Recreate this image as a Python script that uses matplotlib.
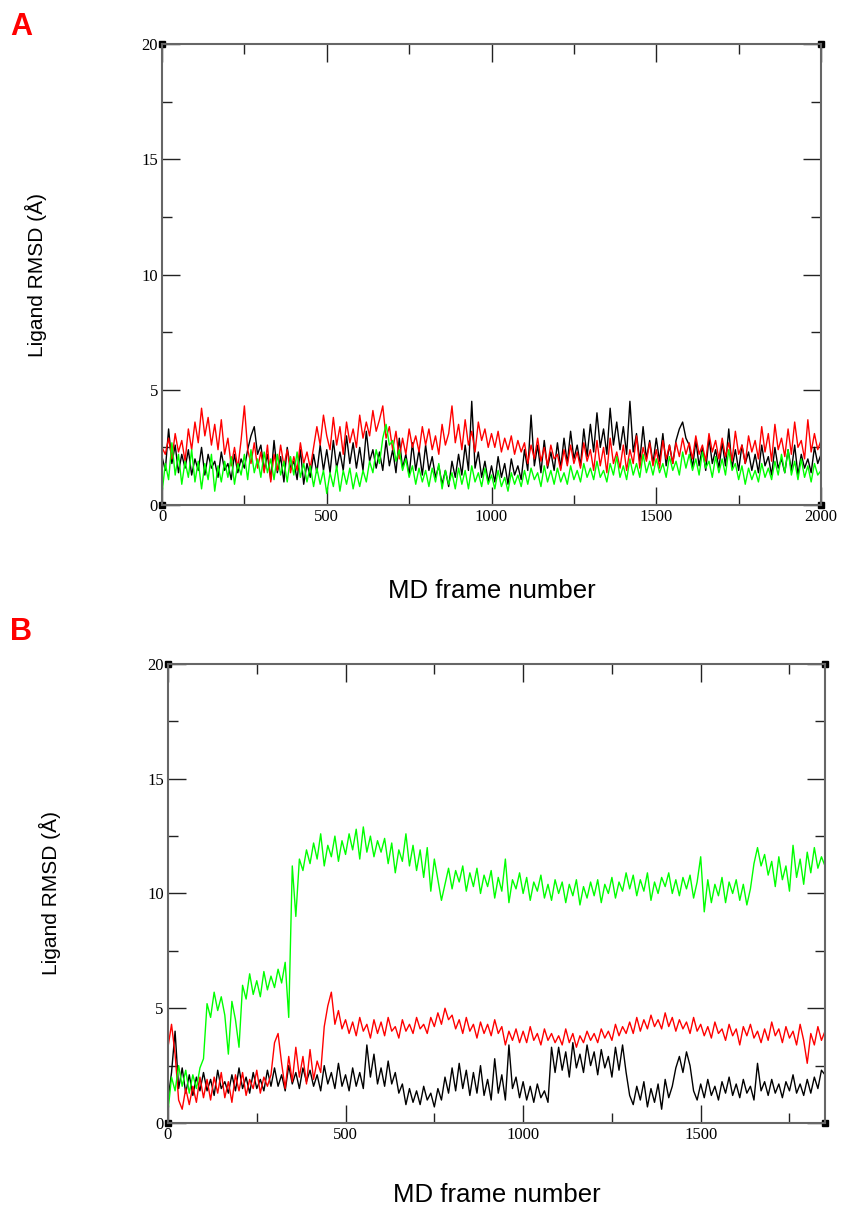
#Ligand RMSD over MD frames, two systems (A and B)
#traces, one value every 10 frames

import numpy as np
import matplotlib.pyplot as plt

# ---- panel A data (frames 0..2000, step 10) ----
framesA = np.arange(0, 2001, 10)

blackA = [2.1, 1.5, 3.3, 1.8, 2.6, 1.4, 2.2, 1.6, 2.4, 1.3,
          2.0, 1.5, 2.5, 1.3, 2.2, 1.6, 1.9, 1.2, 2.3, 1.5,
          1.8, 1.1, 2.2, 1.4, 2.0, 1.6, 2.4, 3.0, 3.4, 2.2,
          2.6, 1.5, 2.2, 1.1, 2.8, 1.4, 2.1, 1.0, 2.5, 1.6,
          1.9, 1.1, 2.4, 0.9, 1.8, 1.2, 2.2, 1.4, 2.6, 1.5,
          2.4, 1.4, 2.8, 1.6, 2.3, 1.5, 3.0, 1.8, 2.7, 1.6,
          2.5, 1.5, 3.2, 1.9, 2.4, 1.6, 2.3, 1.5, 2.8, 1.7,
          2.4, 1.4, 2.9, 1.6, 2.2, 1.3, 2.7, 1.5, 2.4, 1.3,
          2.6, 1.5, 2.1, 1.2, 1.7, 0.9, 1.5, 0.8, 1.9, 1.2,
          2.2, 1.3, 2.6, 1.5, 4.5, 1.6, 2.3, 1.2, 1.9, 1.0,
          1.7, 1.0, 2.1, 1.2, 1.8, 0.9, 2.0, 1.3, 1.7, 1.1,
          2.4, 1.5, 3.9, 1.7, 2.6, 1.4, 2.8, 1.6, 2.3, 1.5,
          2.7, 1.6, 2.9, 1.8, 3.2, 2.0, 2.6, 1.7, 3.3, 2.1,
          3.5, 2.3, 4.0, 2.5, 3.3, 2.2, 4.2, 2.6, 3.6, 2.4,
          3.4, 2.2, 4.5, 2.3, 3.1, 1.9, 3.4, 2.0, 2.8, 1.8,
          2.9, 1.9, 3.1, 1.7, 2.6, 1.8, 2.8, 3.3, 3.6, 2.9,
          2.6, 1.6, 2.8, 1.7, 2.5, 1.5, 2.9, 1.8, 2.4, 1.6,
          2.7, 1.7, 3.3, 1.6, 2.4, 1.5, 2.6, 1.8, 2.3, 1.5,
          2.2, 1.4, 2.6, 1.7, 2.1, 1.3, 2.5, 1.6, 2.0, 1.4,
          2.4, 1.5, 2.6, 1.3, 2.2, 1.6, 2.0, 1.4, 2.5, 1.8,
          2.2]

redA = [2.5, 2.2, 2.9, 2.0, 3.1, 2.3, 2.8, 1.9, 3.3, 2.4,
        3.6, 2.7, 4.2, 3.0, 3.8, 2.6, 3.5, 2.4, 3.7, 2.2,
        2.9, 1.7, 2.5, 1.6, 2.8, 4.3, 2.4, 1.8, 2.7, 1.6,
        2.3, 1.4, 2.6, 1.0, 2.2, 1.5, 2.6, 1.7, 2.4, 1.4,
        2.1, 1.5, 2.7, 1.8, 2.3, 1.6, 2.5, 3.4, 2.6, 3.9,
        3.0, 2.4, 3.8, 2.6, 3.4, 2.2, 3.6, 2.7, 3.3, 2.5,
        3.9, 2.9, 3.6, 3.0, 4.1, 3.2, 3.7, 4.3, 2.9, 3.4,
        2.4, 3.2, 2.0, 2.9, 2.2, 3.3, 2.5, 3.0, 2.3, 3.4,
        2.6, 3.3, 2.4, 3.0, 2.2, 3.5, 2.6, 3.1, 4.3, 2.7,
        3.5, 2.4, 3.7, 2.6, 3.2, 2.3, 3.6, 2.8, 3.3, 2.5,
        3.1, 2.5, 3.2, 2.3, 2.9, 2.4, 3.0, 2.2, 2.8, 2.3,
        2.7, 1.8, 2.6, 2.0, 2.9, 1.9, 2.5, 1.7, 2.6, 2.0,
        2.2, 1.5, 2.4, 1.7, 2.6, 1.8, 2.3, 1.6, 2.7, 1.9,
        2.4, 1.5, 2.8, 1.7, 2.5, 1.4, 2.9, 1.8, 2.3, 1.6,
        2.6, 1.5, 2.4, 1.8, 3.0, 1.6, 2.5, 1.9, 2.7, 1.7,
        2.4, 1.6, 2.8, 2.0, 2.6, 1.8, 2.7, 2.1, 2.9, 2.2,
        2.7, 2.0, 3.0, 2.2, 2.6, 1.9, 3.1, 2.3, 2.8, 2.0,
        2.9, 2.1, 2.7, 1.9, 3.2, 2.2, 2.6, 1.8, 3.0, 2.3,
        2.8, 2.0, 3.4, 2.3, 3.1, 1.9, 3.5, 2.4, 2.9, 2.1,
        3.3, 2.2, 3.6, 2.5, 2.8, 2.0, 3.7, 2.3, 3.1, 2.4,
        2.8]

greenA = [0.5, 1.8, 1.1, 2.7, 1.3, 2.2, 0.9, 1.9, 1.2, 2.4,
          1.0, 1.9, 0.7, 1.8, 1.1, 2.2, 0.6, 1.7, 1.0, 1.9,
          1.2, 2.1, 0.9, 1.8, 1.3, 2.2, 1.1, 2.4, 1.4, 2.0,
          1.2, 2.3, 1.4, 2.0, 1.1, 2.2, 1.3, 1.9, 1.0, 2.1,
          1.3, 2.3, 1.2, 1.8, 1.0, 1.7, 0.8, 1.6, 0.9, 1.5,
          0.5, 1.4, 0.8, 1.7, 0.6, 1.5, 0.9, 1.6, 0.7, 1.4,
          0.8, 1.5, 1.0, 1.9, 1.4, 2.4, 1.8, 2.9, 3.5, 2.6,
          2.8, 1.9, 2.4, 1.5, 2.0, 1.2, 1.7, 0.9, 1.6, 1.0,
          1.5, 0.8, 1.6, 1.0, 1.8, 0.7, 1.5, 0.9, 1.4, 0.7,
          1.6, 0.9, 1.5, 0.7, 1.7, 1.0, 1.4, 0.8, 1.6, 0.9,
          1.3, 0.7, 1.5, 0.8, 1.2, 0.6, 1.4, 0.9, 1.3, 0.8,
          1.5, 0.9, 1.6, 1.1, 1.4, 0.8, 1.7, 1.0, 1.5, 0.9,
          1.6, 1.0, 1.4, 0.9, 1.7, 1.1, 1.5, 1.0, 1.8, 1.2,
          1.6, 1.1, 1.9, 1.2, 1.5, 1.0, 1.8, 1.3, 2.1, 1.2,
          1.7, 1.1, 2.0, 1.3, 1.8, 1.2, 2.2, 1.4, 1.9, 1.3,
          2.0, 1.4, 1.8, 1.2, 2.1, 1.5, 1.9, 1.3, 2.3, 1.6,
          2.2, 1.5, 2.0, 1.3, 2.3, 1.6, 1.9, 1.2, 2.1, 1.4,
          2.0, 1.3, 2.4, 1.5, 1.8, 1.1, 1.7, 0.9, 1.6, 1.1,
          1.5, 1.0, 1.8, 1.2, 1.6, 1.1, 1.9, 1.3, 2.2, 1.4,
          2.4, 1.3, 1.9, 1.1, 2.0, 1.2, 1.7, 1.0, 1.8, 1.3,
          1.5]

# ---- panel B data (frames 0..1850, step 10) ----
framesB = np.arange(0, 1851, 10)

blackB = [1.0, 2.2, 4.0, 1.5, 2.4, 1.3, 2.1, 1.2, 2.0, 1.4,
          2.2, 1.4, 1.9, 1.2, 2.3, 1.5, 1.8, 1.3, 2.1, 1.4,
          2.4, 1.5, 2.0, 1.3, 2.2, 1.5, 1.9, 1.4, 2.3, 1.6,
          2.4, 1.6, 2.1, 1.4, 2.5, 1.7, 2.2, 1.5, 2.4, 1.8,
          2.3, 1.6, 2.1, 1.4, 2.5, 1.7, 2.2, 1.5, 2.6, 1.6,
          2.1, 1.4, 2.4, 1.6, 2.2, 1.5, 3.4, 2.0, 3.0, 1.7,
          2.4, 1.6, 2.7, 1.7, 2.2, 1.3, 1.7, 0.8, 1.5, 0.9,
          1.4, 0.8, 1.6, 1.0, 1.3, 0.7, 1.5, 1.0, 2.0, 1.3,
          2.4, 1.4, 2.6, 1.5, 2.3, 1.2, 2.2, 1.3, 2.5, 1.2,
          1.9, 1.0, 2.8, 1.3, 2.1, 1.0, 3.4, 1.5, 2.0, 1.1,
          1.8, 1.0, 1.6, 0.9, 1.7, 1.1, 1.4, 0.9, 3.3, 2.2,
          3.3, 2.3, 3.1, 2.0, 3.5, 2.4, 3.0, 2.2, 3.4, 2.5,
          3.1, 2.1, 3.2, 2.4, 2.9, 2.0, 3.3, 2.3, 3.4, 2.2,
          1.2, 0.8, 1.6, 1.0, 1.8, 0.7, 1.5, 0.9, 1.7, 0.6,
          1.9, 1.1, 1.6, 2.4, 2.9, 2.2, 3.1, 2.5, 1.4, 1.0,
          1.7, 1.1, 1.9, 1.2, 1.6, 1.0, 1.8, 1.3, 2.0, 1.2,
          1.7, 1.1, 1.9, 1.3, 1.6, 1.0, 2.6, 1.4, 1.8, 1.2,
          1.9, 1.3, 1.7, 1.1, 1.8, 1.4, 2.1, 1.3, 1.7, 1.2,
          1.9, 1.3, 2.0, 1.5, 2.3, 2.1]

redB = [3.3, 4.3, 3.0, 1.0, 0.6, 1.5, 0.8, 1.6, 0.9, 2.0,
        1.1, 1.9, 1.0, 2.0, 1.3, 2.2, 1.1, 1.8, 0.9, 2.1,
        1.4, 2.2, 1.2, 1.9, 1.5, 2.3, 1.3, 2.0, 1.6, 2.1,
        3.5, 3.9, 2.6, 1.5, 2.9, 1.8, 3.3, 2.0, 2.9, 1.7,
        3.2, 1.9, 2.7, 2.2, 4.2, 5.1, 5.7, 4.3, 4.9, 4.1,
        4.5, 3.9, 4.4, 3.8, 4.6, 4.0, 4.3, 3.7, 4.5, 3.9,
        4.4, 3.8, 4.6, 4.0, 4.2, 3.7, 4.5, 4.0, 4.3, 3.9,
        4.6, 4.1, 4.3, 3.9, 4.6, 4.2, 4.8, 4.3, 5.0, 4.5,
        4.7, 4.1, 4.5, 3.9, 4.6, 4.0, 4.3, 3.7, 4.4, 3.9,
        4.3, 3.8, 4.5, 3.9, 4.2, 3.4, 4.0, 3.6, 4.1, 3.5,
        4.0, 3.5, 4.2, 3.6, 3.9, 3.4, 4.1, 3.6, 3.9, 3.5,
        3.8, 3.4, 4.1, 3.5, 3.9, 3.3, 3.8, 3.5, 4.0, 3.6,
        3.9, 3.5, 4.1, 3.7, 4.0, 3.6, 4.3, 3.8, 4.2, 3.9,
        4.4, 3.9, 4.6, 4.0, 4.5, 4.1, 4.7, 4.2, 4.5, 4.1,
        4.8, 4.2, 4.6, 4.0, 4.5, 4.1, 4.4, 3.9, 4.6, 4.0,
        4.3, 3.8, 4.2, 3.7, 4.4, 3.9, 4.1, 3.6, 4.3, 3.8,
        4.1, 3.4, 4.2, 3.8, 4.3, 3.7, 4.0, 3.5, 4.1, 3.6,
        4.4, 3.8, 4.1, 3.5, 4.2, 3.7, 4.0, 3.4, 4.3, 3.6,
        2.6, 3.9, 3.4, 4.2, 3.6, 4.0]

greenB = [0.5, 2.0, 1.4, 2.5, 1.6, 2.3, 1.3, 2.1, 1.5, 2.4,
          2.8, 5.2, 4.6, 5.7, 4.9, 5.5, 4.7, 3.0, 5.3, 4.5,
          3.3, 6.0, 5.4, 6.5, 5.6, 6.2, 5.5, 6.6, 5.8, 6.4,
          5.9, 6.7, 6.1, 7.0, 4.6, 11.2, 9.0, 11.5, 11.0, 11.9,
          11.3, 12.2, 11.5, 12.6, 11.2, 12.1, 11.6, 12.5, 11.4, 12.3,
          11.7, 12.6, 11.9, 12.8, 11.5, 12.9, 11.8, 12.5, 11.6, 12.3,
          11.8, 12.4, 11.3, 12.2, 10.9, 11.9, 11.4, 12.6, 11.2, 12.1,
          11.0, 11.9, 10.7, 12.0, 10.1, 11.5, 10.6, 9.7, 10.4, 11.1,
          10.2, 11.0, 10.5, 11.2, 10.1, 10.9, 10.3, 11.1, 10.0, 10.8,
          10.3, 11.0, 9.8, 10.7, 10.1, 11.5, 9.6, 10.6, 10.2, 10.9,
          10.0, 10.7, 9.7, 10.5, 10.1, 10.8, 9.8, 10.4, 9.7, 10.6,
          10.0, 10.5, 9.6, 10.4, 9.9, 10.6, 9.5, 10.3, 9.8, 10.5,
          9.9, 10.6, 9.6, 10.4, 10.0, 10.7, 9.8, 10.5, 10.1, 10.9,
          10.2, 10.8, 9.9, 10.6, 10.1, 10.9, 9.7, 10.5, 10.0, 10.7,
          10.3, 10.9, 10.0, 10.6, 9.9, 10.7, 10.2, 10.8, 9.8, 10.5,
          11.6, 9.2, 10.6, 9.6, 10.4, 9.9, 10.7, 9.6, 10.5, 10.0,
          10.6, 9.7, 10.4, 9.5, 10.2, 11.3, 12.0, 11.2, 11.7, 10.8,
          11.4, 10.3, 11.6, 10.6, 11.2, 10.1, 12.1, 10.7, 11.5, 10.4,
          11.8, 10.9, 12.0, 11.1, 11.6, 11.2]

yticks = [0, 5, 10, 15, 20]
xticksA = [0, 500, 1000, 1500, 2000]
xticksB = [0, 500, 1000, 1500]

fig = plt.figure(figsize=(8.42, 12.07), dpi=100)
axA = fig.add_axes([0.1924, 0.5816, 0.7827, 0.3819])
axB = fig.add_axes([0.1995, 0.0696, 0.7803, 0.3803])

# (axes, frames, series, x max, x ticks, ylabel pad, xlabel pad)
panels = [(axA, framesA, [blackA, redA, greenA], 2000, xticksA, 68, 39),
          (axB, framesB, [blackB, redB, greenB], 1850, xticksB, 62, 29)]

for ax, fr, series, xmax, xt, ypad, xpad in panels:
    for ys, col in zip(series, ['#000000', '#ff0000', '#00ff00']):
        ax.plot(fr, ys, color=col, lw=1.0)
    ax.set_xlim(0, xmax)
    ax.set_ylim(0, 20)
    ax.set_xticks(xt)
    ax.set_xticks(np.arange(250, xmax, 500), minor=True)
    ax.set_yticks(yticks)
    ax.set_yticks([2.5, 7.5, 12.5, 17.5], minor=True)
    ax.tick_params(which='both', direction='in', top=True, right=True,
                   labelfontfamily='Liberation Serif', labelsize=12, pad=3, color='#222222')
    ax.tick_params(which='major', length=13, width=1)
    ax.tick_params(which='minor', length=7, width=1)
    for s in ax.spines.values():
        s.set_color('#666666')
        s.set_linewidth(1.5)
    # little squares at the frame corners, like xmgrace
    ax.plot([0, 1, 0, 1], [0, 0, 1, 1], 's', color='k', ms=5,
            transform=ax.transAxes, clip_on=False)
    ax.set_ylabel('Ligand RMSD (Å)', family='Liberation Sans', fontsize=15, labelpad=ypad)
    ax.set_xlabel('MD frame number', family='Liberation Sans', fontsize=18.5, labelpad=xpad)

fig.text(0.012, 0.978, 'A', color='#ff0000', fontsize=22, fontweight='bold',
         family='Liberation Sans', va='center')
fig.text(0.012, 0.476, 'B', color='#ff0000', fontsize=22, fontweight='bold',
         family='Liberation Sans', va='center')

plt.savefig('out.png', dpi=100)
